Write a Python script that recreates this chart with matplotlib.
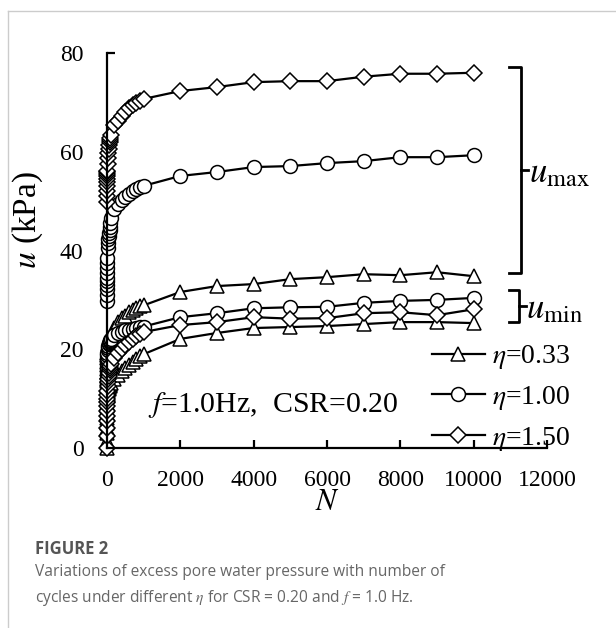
import numpy as np
import matplotlib
matplotlib.use("Agg")
import matplotlib.pyplot as plt
from matplotlib.lines import Line2D

plt.rcParams['font.family'] = ['Liberation Serif', 'DejaVu Serif']
plt.rcParams['mathtext.fontset'] = 'stix'

# number of cycles at which u was recorded
n_max = [1, 2, 3, 4, 5, 6, 7, 8, 9, 10, 20, 30, 40, 50, 60, 70, 80, 90, 100,
         200, 300, 400, 500, 600, 700, 800, 900, 1000,
         2000, 3000, 4000, 5000, 6000, 7000, 8000, 9000, 10000]
n_min = [0] + n_max

# u_max (kPa)
tri_max = [12.5, 13.5, 14.5, 15.3, 16.0, 16.8, 17.5, 18.2, 18.8, 19.3, 20.0, 20.5, 21.0, 21.3, 21.6, 21.9, 22.1, 22.3, 22.6,
           24.4, 25.6, 26.3, 26.8, 27.5, 28.0, 28.4, 28.7, 28.9,
           31.6, 32.8, 33.2, 34.2, 34.6, 35.2, 35.0, 35.6, 34.8]
cir_max = [29.8, 31.0, 32.2, 33.0, 33.8, 34.5, 35.5, 36.5, 37.5, 38.5, 40.5, 41.5, 42.3, 43.0, 43.6, 44.2, 44.8, 45.5, 46.5,
           48.5, 49.4, 50.2, 50.8, 51.5, 52.0, 52.5, 52.9, 53.1,
           55.1, 55.9, 56.9, 57.1, 57.7, 58.1, 58.9, 58.9, 59.3]
dia_max = [49.8, 51.0, 52.0, 53.0, 53.8, 54.5, 55.0, 55.4, 55.8, 56.2, 57.5, 58.7, 59.8, 60.6, 61.3, 61.9, 62.4, 62.8, 63.3,
           65.5, 66.3, 67.2, 68.0, 68.8, 69.4, 69.9, 70.3, 70.7,
           72.3, 73.1, 74.1, 74.3, 74.3, 75.2, 75.8, 75.8, 76.0]

# u_min (kPa)
tri_min = [0.0, 1.5, 3.0, 4.0, 5.0, 6.0, 7.0, 7.8, 8.5, 9.2, 9.8, 10.5, 11.0, 11.5, 11.9, 12.2, 12.5, 12.8, 13.0, 13.2,
           14.0, 14.8, 15.5, 16.2, 16.8, 17.4, 18.0, 18.6, 19.0,
           22.1, 23.3, 24.3, 24.5, 24.7, 25.1, 25.5, 25.5, 25.3]
cir_min = [13.0, 13.0, 14.0, 15.0, 15.8, 16.5, 17.2, 17.8, 18.3, 18.8, 19.2, 19.8, 20.3, 20.7, 21.0, 21.3, 21.5, 21.7, 21.9, 22.1,
           22.8, 23.2, 23.5, 23.8, 24.0, 24.2, 24.4, 24.5, 24.6,
           26.5, 27.3, 28.3, 28.5, 28.6, 29.4, 29.8, 30.0, 30.4]
dia_min = [0.0, 2.5, 4.0, 5.5, 6.5, 7.5, 8.5, 9.3, 10.0, 10.8, 11.5, 12.5, 13.3, 14.0, 14.6, 15.2, 15.7, 16.2, 16.6, 17.0,
           18.2, 19.2, 20.0, 20.8, 21.5, 22.1, 22.6, 23.1, 23.5,
           24.9, 25.5, 26.5, 26.2, 26.3, 27.3, 27.5, 26.9, 28.1]

labels = [r'$\eta$=0.33', r'$\eta$=1.00', r'$\eta$=1.50']
markers = ['^', 'o', 'D']
msizes = [10, 10, 8]

fig = plt.figure(figsize=(6.16, 6.28), dpi=100)
ax = fig.add_axes([0.1737, 0.2866, 0.7143, 0.629])

style = dict(color='black', lw=1.6, mfc='white', mec='black', mew=1.1)
handles = []
for ymax, ymin, m, ms, lab in zip([tri_max, cir_max, dia_max], [tri_min, cir_min, dia_min], markers, msizes, labels):
    ax.plot(n_min, ymin, marker=m, ms=ms, clip_on=False, **style)
    h, = ax.plot(n_max, ymax, marker=m, ms=ms, clip_on=False, label=lab, **style)
    handles.append(h)

ax.set_xlim(0, 12000)
ax.set_ylim(0, 80)
ax.set_xticks(range(0, 12001, 2000))
ax.set_yticks(range(0, 81, 20))
for s in ['top', 'right']:
    ax.spines[s].set_visible(False)
for s in ['left', 'bottom']:
    ax.spines[s].set_linewidth(1.6)
ax.tick_params(direction='in', length=6, width=1.6, labelsize=17)
ax.tick_params(axis='y', pad=17)
ax.tick_params(axis='x', pad=16)
ax.set_xlabel(r'$N$', fontsize=22)
ax.xaxis.set_label_coords(0.5, -0.102)
ax.set_ylabel(r'$u$ (kPa)', fontsize=24)
ax.yaxis.set_label_coords(-0.141, 0.577)

ax.text(1130, 8.8, r'$f$=1.0Hz,  CSR=0.20', fontsize=21.5, ha='left', va='center')

# brackets
bx = [10950, 11290, 11290, 10950]
ax.plot(bx, [77.1, 77.1, 35.4, 35.4], color='black', lw=2, clip_on=False)
ax.plot([11290, 11470], [56.3, 56.3], color='black', lw=2, clip_on=False)
ax.text(11500, 55.6, r'$u_{\mathrm{max}}$', fontsize=25, ha='left', va='center')
bx2 = [10950, 11240, 11240, 10950]
ax.plot(bx2, [32.0, 32.0, 25.5, 25.5], color='black', lw=2, clip_on=False)
ax.plot([11240, 11420], [28.7, 28.7], color='black', lw=2, clip_on=False)
ax.text(11430, 28.0, r'$u_{\mathrm{min}}$', fontsize=25, ha='left', va='center')

ax.legend(handles=handles, loc='upper left', bbox_to_anchor=(0.7386, 0.265), frameon=False,
          fontsize=20, handlelength=1.9, handletextpad=0.25, labelspacing=0.46,
          borderpad=0, borderaxespad=0)

# page frame and caption
fig.add_artist(Line2D([8 / 616, 1], [1 - 11 / 628, 1 - 11 / 628], color='#cccccc', lw=1))
fig.add_artist(Line2D([8 / 616, 8 / 616], [0, 1 - 11 / 628], color='#cccccc', lw=1))
fig.text(35 / 616, 1 - 549 / 628, 'FIGURE 2', family='Open Sans', fontweight='bold',
         fontsize=12, color='#555555', va='center')
fig.text(35 / 616, 1 - 586 / 628,
         'Variations of excess pore water pressure with number of\ncycles under different $\\eta$ for CSR = 0.20 and $f$ = 1.0 Hz.',
         family='Open Sans', fontsize=11.2, color='#666666', va='center', linespacing=1.5)

fig.savefig('out.png', dpi=100)
